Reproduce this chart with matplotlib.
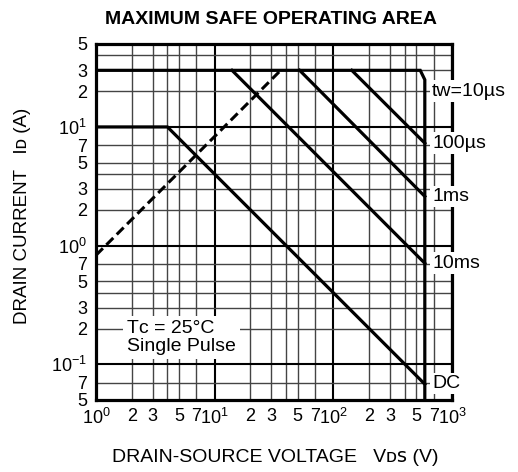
import matplotlib
matplotlib.use("Agg")
import matplotlib.pyplot as plt
from matplotlib.ticker import FixedLocator, FuncFormatter
import numpy as np

plt.rcParams['font.family'] = ['Liberation Sans', 'DejaVu Sans']
plt.rcParams['mathtext.fontset'] = 'custom'
plt.rcParams['mathtext.rm'] = 'Liberation Sans'
plt.rcParams['mathtext.it'] = 'Liberation Sans:italic'
plt.rcParams['mathtext.bf'] = 'Liberation Sans:bold'

# SOA boundaries (VDS in V, ID in A)
vds_10us = [1, 540, 590, 590]
id_10us = [30, 30, 25, 0.05]
vds_100us = [143, 590]
id_100us = [30, 7.3]
vds_1ms = [52, 590]
id_1ms = [30, 2.6]
vds_10ms = [14, 590]
id_10ms = [30, 0.71]
vds_dc = [1, 4, 590]
id_dc = [10, 10, 0.068]
vds_rds = [1, 36]
id_rds = [0.83, 30]

curve_labels = ["tw=10µs", "100µs", "1ms", "10ms", "DC"]
label_id = [20, 7.3, 2.6, 0.71, 0.069]

xlim = (1, 1000)
ylim = (0.05, 50)
grid_subs = [2, 3, 4, 5, 7]
label_subs = [2, 3, 5, 7]

fig = plt.figure(figsize=(5.18, 4.72), dpi=100)
ax = fig.add_axes([96/518, 1-400/472, 356/518, 356/472])
ax.set_xscale('log')
ax.set_yscale('log')
ax.set_xlim(*xlim)
ax.set_ylim(*ylim)


def ticks_in(lo, hi, subs):
    out = []
    for e in range(-3, 5):
        for m in subs:
            v = m * 10.0**e
            if lo * 0.999 <= v <= hi * 1.001:
                out.append(v)
    return out


def major_fmt(v, pos):
    e = int(round(np.log10(v)))
    return r"$\mathregular{10^{%d}}$" % e


def minor_fmt(v, pos):
    e = int(np.floor(np.log10(v) + 1e-9))
    m = int(round(v / 10.0**e))
    return str(m) if m in label_subs else ""


for axis, lim in ((ax.xaxis, xlim), (ax.yaxis, ylim)):
    axis.set_major_locator(FixedLocator(ticks_in(lim[0], lim[1], [1])))
    axis.set_minor_locator(FixedLocator(ticks_in(lim[0], lim[1], grid_subs)))
    axis.set_major_formatter(FuncFormatter(major_fmt))
    axis.set_minor_formatter(FuncFormatter(minor_fmt))

ax.tick_params(which='both', length=0, labelsize=13, colors='black')
ax.tick_params(axis='x', which='both', pad=5.5)
ax.tick_params(axis='y', which='both', pad=6.5)

ax.grid(which='minor', color='#444444', lw=1.0)
ax.grid(which='major', color='black', lw=1.5)
ax.set_axisbelow(True)
for s in ax.spines.values():
    s.set_linewidth(2.3)
    s.set_zorder(3)

lw = 2.3
ax.plot(vds_10us, id_10us, color='black', lw=lw, zorder=4, solid_joinstyle='miter')
ax.plot(vds_100us, id_100us, color='black', lw=lw, zorder=4)
ax.plot(vds_1ms, id_1ms, color='black', lw=lw, zorder=4)
ax.plot(vds_10ms, id_10ms, color='black', lw=lw, zorder=4)
ax.plot(vds_dc, id_dc, color='black', lw=lw, zorder=4, solid_joinstyle='miter')
ax.plot(vds_rds, id_rds, color='black', lw=2.2, ls=(0, (3.2, 1.6)), zorder=4)

for lab, y in zip(curve_labels, label_id):
    ax.text(680, y, lab, ha='left', va='center', fontsize=14, zorder=6,
            clip_on=False,
            bbox=dict(boxstyle='square,pad=0.12', fc='white', ec='none'))

ax.text(1.82, 0.168, "Tᴄ = 25°C\nSingle Pulse", ha='left', va='center',
        fontsize=14, linespacing=1.05, zorder=6,
        bbox=dict(boxstyle='square,pad=0.2', fc='white', ec='none'))

fig.text(271/518, 1-19.5/472, "MAXIMUM SAFE OPERATING AREA", ha='center', va='center',
         fontsize=14, fontweight='bold')
fig.text(275/518, 1-458/472, "DRAIN-SOURCE VOLTAGE   Vᴅꜱ (V)",
         ha='center', va='center', fontsize=14)
fig.text(23/518, 1-216/472, "DRAIN CURRENT   Iᴅ (A)",
         ha='center', va='center', fontsize=13.5, rotation=90)

fig.savefig("out.png", dpi=100, facecolor='white')
